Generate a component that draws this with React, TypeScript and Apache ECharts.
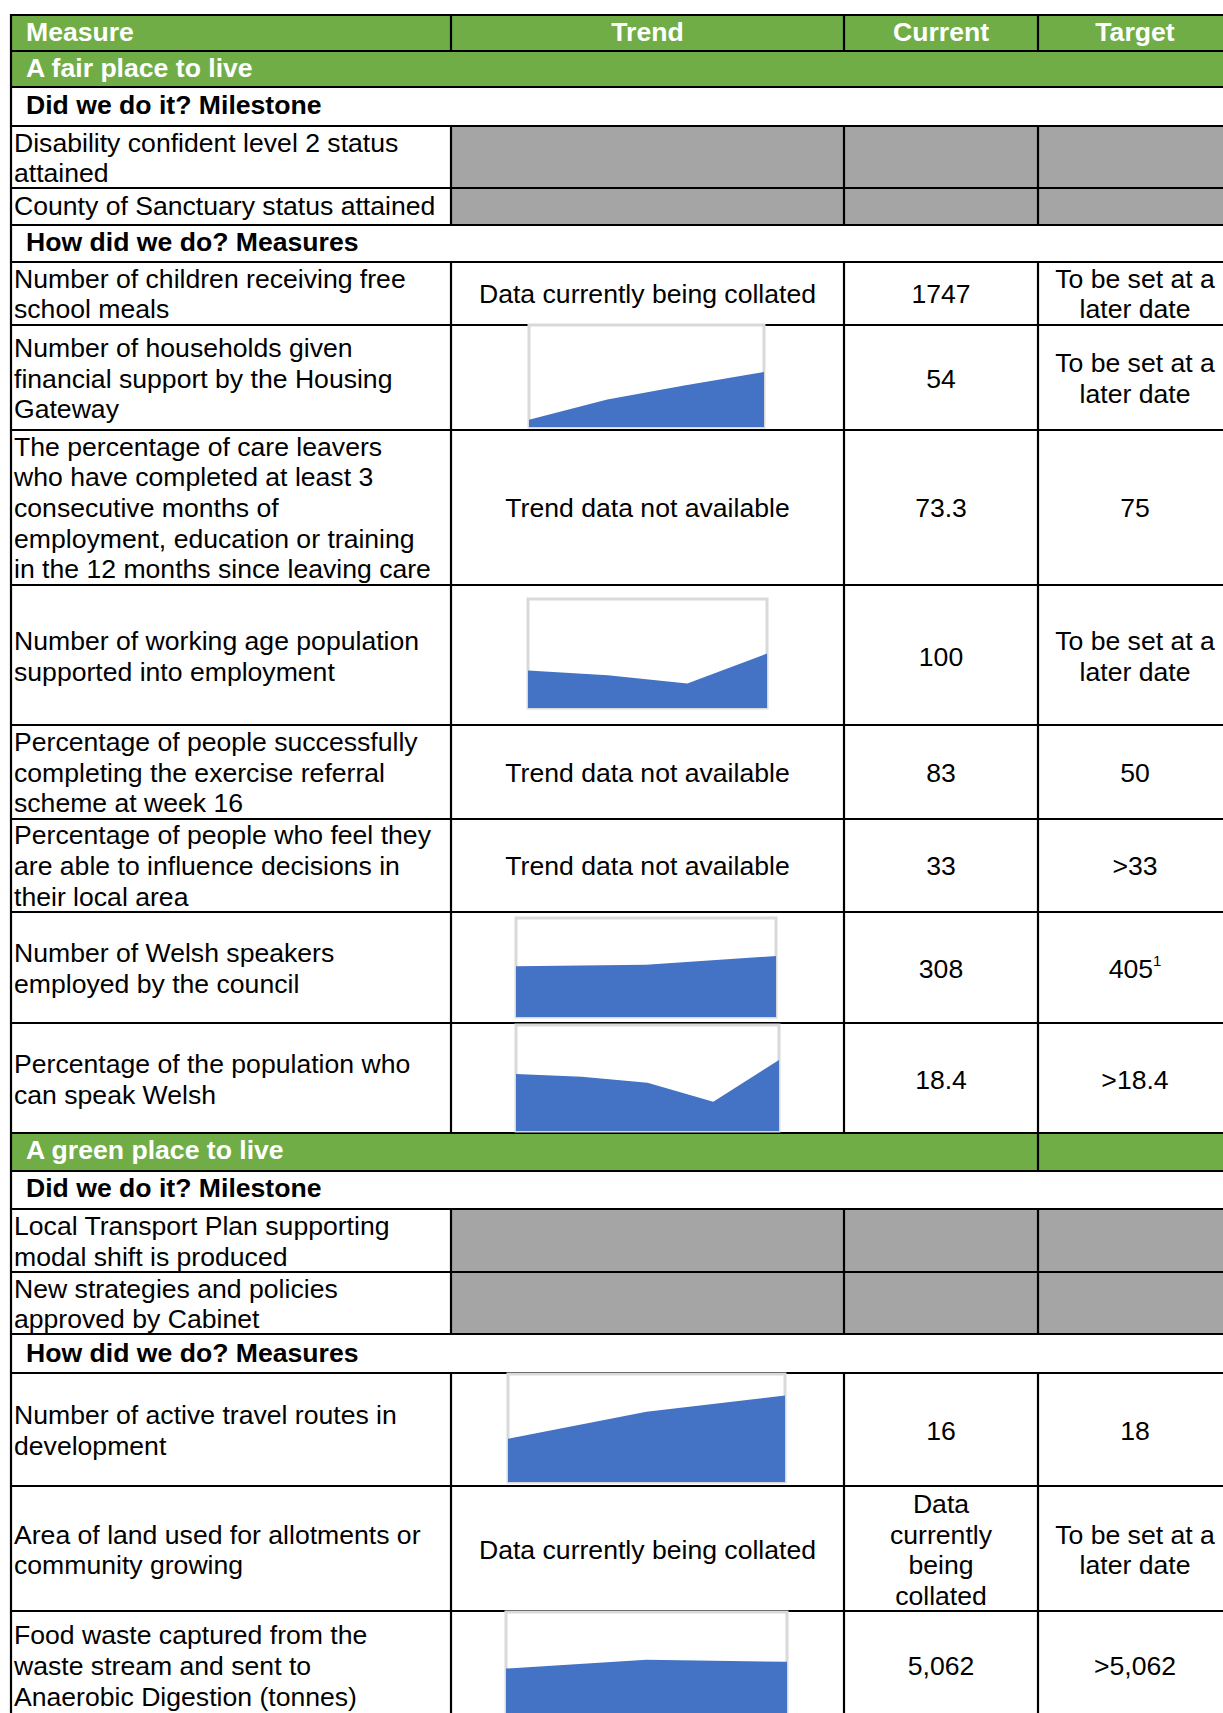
import React, { useEffect, useRef } from 'react';
import * as echarts from 'echarts';

// ---------- DATA ----------
const headerLabels = ['Measure', 'Trend', 'Current', 'Target'];
const sectionTitles = ['A fair place to live', 'A green place to live'];
const subTitles = ['Did we do it? Milestone', 'How did we do? Measures'];

const fairMilestones = ['Disability confident level 2 status\nattained', 'County of Sanctuary status attained'];
const fairMeasures = [
  'Number of children receiving free\nschool meals',
  'Number of households given\nfinancial support by the Housing\nGateway',
  'The percentage of care leavers\nwho have completed at least 3\nconsecutive months of\nemployment, education or training\nin the 12 months since leaving care',
  'Number of working age population\nsupported into employment',
  'Percentage of people successfully\ncompleting the exercise referral\nscheme at week 16',
  'Percentage of people who feel they\nare able to influence decisions in\ntheir local area',
  'Number of Welsh speakers\nemployed by the council',
  'Percentage of the population who\ncan speak Welsh',
];
const fairTrendNotes = ['Data currently being collated', '', 'Trend data not available', '', 'Trend data not available', 'Trend data not available', '', ''];
const fairCurrent = ['1747', '54', '73.3', '100', '83', '33', '308', '18.4'];
const fairTarget = ['To be set at a\nlater date', 'To be set at a\nlater date', '75', 'To be set at a\nlater date', '50', '>33', '405{sup|1}', '>18.4'];

const greenMilestones = ['Local Transport Plan supporting\nmodal shift is produced', 'New strategies and policies\napproved by Cabinet'];
const greenMeasures = [
  'Number of active travel routes in\ndevelopment',
  'Area of land used for allotments or\ncommunity growing',
  'Food waste captured from the\nwaste stream and sent to\nAnaerobic Digestion (tonnes)',
];
const greenTrendNotes = ['', 'Data currently being collated', ''];
const greenCurrent = ['16', 'Data\ncurrently\nbeing\ncollated', '5,062'];
const greenTarget = ['18', 'To be set at a\nlater date', '>5,062'];

// Sparkline trend values
const householdsTrend = [7, 27, 41, 54];
const workingAgeTrend = [69, 60, 45, 100];
const welshSpeakersTrend = [256, 264, 308];
const welshPopulationTrend = [14.8, 14.1, 12.5, 7.6, 18.4];
const activeTravelTrend = [8, 13, 16];
const foodWasteTrend = [4400, 5270, 5062];
const trendSeries = [householdsTrend, workingAgeTrend, welshSpeakersTrend, welshPopulationTrend, activeTravelTrend, foodWasteTrend];
const trendAxisMax = [100, 200, 500, 27.5, 20, 10000];

// ---------- LAYOUT ----------
const X = { L: 11, c1: 451, c2: 844, c3: 1038, R: 1232 };
const colCenters = [0, (X.c1 + X.c2) / 2, (X.c2 + X.c3) / 2, (X.c3 + X.R) / 2];
const GREEN = '#70AD47';
const GREY = '#A5A5A5';
const BLUE = '#4472C4';
const FONT = '"Liberation Sans", Arial, Helvetica, sans-serif';
const FS = 26.6;
const LH = 30.6;
const DY = -1;

// [top, bottom, textCenterY]
const headerRow = [15, 51, 33];
const sectionRows = [[51, 87, 69], [1133, 1171, 1151]];
const subRows = [[87, 126, 106], [225, 262, 243], [1171, 1209, 1189], [1334, 1373, 1354]];
const fairMilestoneRows = [[126, 188, 159], [188, 225, 206.5]];
const fairMeasureRows = [[262, 325, 295], [325, 430, 379.5], [430, 585, 509], [585, 725, 657.5], [725, 819, 773.5], [819, 912, 867], [912, 1023, 969.5], [1023, 1133, 1080.5]];
const greenMilestoneRows = [[1209, 1272, 1242.5], [1272, 1334, 1305]];
const greenMeasureRows = [[1373, 1486, 1431.5], [1486, 1611, 1551], [1611, 1760, 1667]];
// sparkline boxes [x0, x1, y0, y1]
const sparkBoxes = [
  [529, 764, 325, 427],
  [528, 767, 599, 708],
  [516, 776, 918, 1017],
  [516, 779, 1025, 1131],
  [508, 785, 1374, 1482],
  [506, 787, 1612, 1717],
];

function text(x: number, y: number, t: string, align: string, opts: any = {}) {
  return {
    type: 'text',
    x,
    y: y + DY,
    z: 2,
    silent: true,
    style: {
      text: t,
      fill: opts.color || '#000',
      fontSize: FS,
      fontFamily: FONT,
      fontWeight: opts.bold ? 'bold' : 'normal',
      lineHeight: LH,
      textAlign: align,
      align,
      textVerticalAlign: 'middle',
      verticalAlign: 'middle',
      rich: {
        sup: { fontSize: 15, fontFamily: FONT, fill: '#000', verticalAlign: 'top', lineHeight: LH, padding: [0, 0, 12, 0] },
      },
    },
  };
}
function rect(x: number, y: number, w: number, h: number, fill: string) {
  return { type: 'rect', z: 0, silent: true, shape: { x, y, width: w, height: h }, style: { fill } };
}
function hline(y: number) {
  return { type: 'line', z: 1, silent: true, shape: { x1: X.L - 1, y1: y, x2: X.R + 2, y2: y }, style: { stroke: '#000', lineWidth: 2.2 } };
}
function vline(x: number, y1: number, y2: number) {
  return { type: 'line', z: 1, silent: true, shape: { x1: x, y1, x2: x, y2 }, style: { stroke: '#000', lineWidth: 2.2 } };
}

function buildGraphics() {
  const g: any[] = [];
  // header
  g.push(rect(X.L, headerRow[0], X.R - X.L, headerRow[1] - headerRow[0], GREEN));
  g.push(text(26, headerRow[2], headerLabels[0], 'left', { bold: true, color: '#fff' }));
  for (let i = 1; i < 4; i++) g.push(text(colCenters[i], headerRow[2], headerLabels[i], 'center', { bold: true, color: '#fff' }));
  [X.c1, X.c2, X.c3].forEach((x) => g.push(vline(x, headerRow[0], headerRow[1])));
  g.push(hline(headerRow[0]));
  g.push(hline(headerRow[1]));

  // sections
  sectionRows.forEach((r, i) => {
    g.push(rect(X.L, r[0], X.R - X.L, r[1] - r[0], GREEN));
    g.push(text(26, r[2], sectionTitles[i], 'left', { bold: true, color: '#fff' }));
    g.push(hline(r[0]));
    g.push(hline(r[1]));
    if (i === 1) g.push(vline(X.c3, r[0], r[1]));
  });

  // sub headings
  subRows.forEach((r, i) => {
    g.push(text(26, r[2], subTitles[i % 2], 'left', { bold: true }));
    g.push(hline(r[0]));
    g.push(hline(r[1]));
  });

  // milestones
  const milestone = (rows: number[][], names: string[]) => {
    rows.forEach((r, i) => {
      g.push(rect(X.c1, r[0], X.R - X.c1, r[1] - r[0], GREY));
      g.push(text(14, r[2], names[i], 'left'));
      [X.c1, X.c2, X.c3].forEach((x) => g.push(vline(x, r[0], r[1])));
      g.push(hline(r[0]));
      g.push(hline(r[1]));
    });
  };
  milestone(fairMilestoneRows, fairMilestones);
  milestone(greenMilestoneRows, greenMilestones);

  // measures
  const measures = (rows: number[][], names: string[], notes: string[], cur: string[], tgt: string[]) => {
    rows.forEach((r, i) => {
      g.push(text(14, r[2], names[i], 'left'));
      if (notes[i]) g.push(text(colCenters[1], r[2], notes[i], 'center'));
      g.push(text(colCenters[2], r[2], cur[i], 'center'));
      g.push(text(colCenters[3], r[2], tgt[i], 'center'));
      [X.c1, X.c2, X.c3].forEach((x) => g.push(vline(x, r[0], r[1])));
      g.push(hline(r[0]));
      g.push(hline(r[1]));
    });
  };
  measures(fairMeasureRows, fairMeasures, fairTrendNotes, fairCurrent, fairTarget);
  measures(greenMeasureRows, greenMeasures, greenTrendNotes, greenCurrent, greenTarget);

  // left border
  g.push(vline(X.L, headerRow[0] - 1, 1760));
  return g;
}

export default function App() {
  const ref = useRef<HTMLDivElement>(null);
  useEffect(() => {
    document.body.style.margin = '0';
    const chart = echarts.init(ref.current!, null, { renderer: 'svg' });
    const grids: any[] = [];
    const xAxes: any[] = [];
    const yAxes: any[] = [];
    const series: any[] = [];
    trendSeries.forEach((vals, i) => {
      const b = sparkBoxes[i];
      grids.push({
        left: b[0],
        top: b[2],
        width: b[1] - b[0],
        height: b[3] - b[2],
        show: true,
        backgroundColor: '#fff',
        borderColor: '#D9D9D9',
        borderWidth: 3,
        z: 3,
      });
      xAxes.push({
        type: 'category',
        gridIndex: i,
        data: vals.map((_, k) => String(k + 1)),
        boundaryGap: false,
        show: false,
      });
      yAxes.push({ type: 'value', gridIndex: i, min: 0, max: trendAxisMax[i], show: false, splitLine: { show: false } });
      series.push({
        type: 'line',
        xAxisIndex: i,
        yAxisIndex: i,
        data: vals,
        z: 4,
        silent: true,
        showSymbol: false,
        symbol: 'none',
        lineStyle: { width: 0 },
        areaStyle: { color: BLUE, opacity: 1 },
      });
    });
    chart.setOption({
      animation: false,
      backgroundColor: '#fff',
      grid: grids,
      xAxis: xAxes,
      yAxis: yAxes,
      series,
      graphic: { elements: buildGraphics() },
    });
    return () => chart.dispose();
  }, []);
  return <div ref={ref} style={{ width: 1223, height: 1713, overflow: 'hidden' }} />;
}
